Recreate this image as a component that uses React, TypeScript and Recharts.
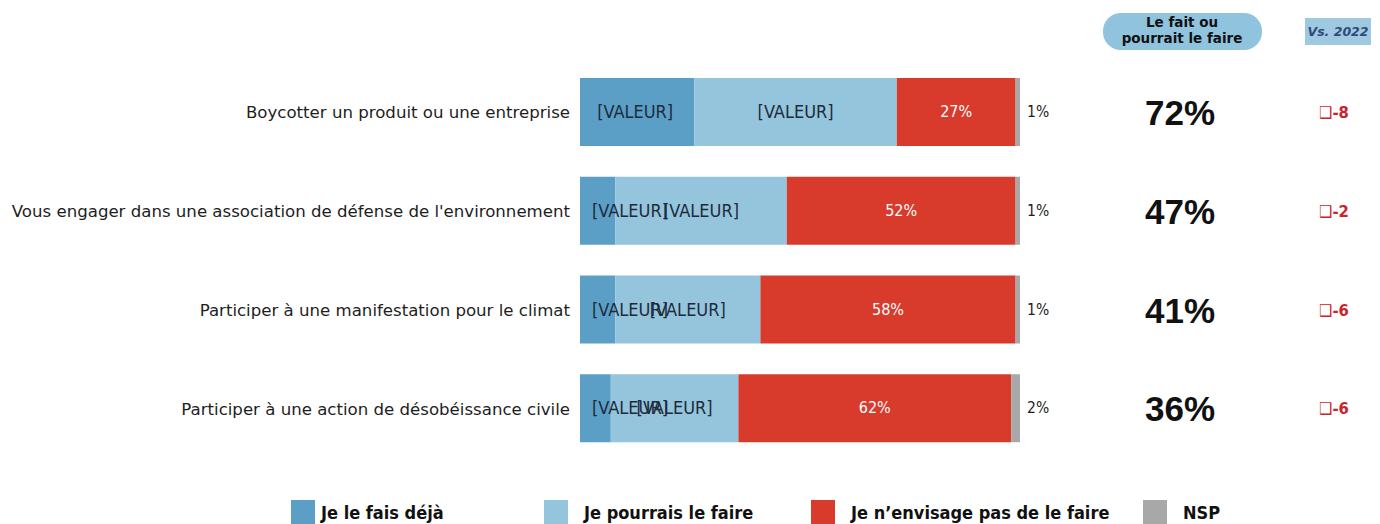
import React from 'react';
import { BarChart, Bar, XAxis, YAxis, LabelList } from 'recharts';

// Données
const categories = [
    'Boycotter un produit ou une entreprise',
    "Vous engager dans une association de défense de l'environnement",
    'Participer à une manifestation pour le climat',
    'Participer à une action de désobéissance civile',
];
const dejaFait = [26, 8, 8, 7];
const pourrait = [46, 39, 33, 29];
const envisagePas = [27, 52, 58, 62];
const nsp = [1, 1, 1, 2];
const totalFait = [72, 47, 41, 36];
const vs2022 = [-8, -2, -6, -6];
const seriesNames = ['Je le fais déjà', 'Je pourrais le faire', "Je n\u2019envisage pas de le faire", 'NSP'];

const COLORS = ['#5b9fc7', '#95c4dd', '#d83a2b', '#a8a8a8'];
const FONT = '"DejaVu Sans", Verdana, sans-serif';
const FONT_COND = '"DejaVu Sans Condensed", "DejaVu Sans", sans-serif';

const data = categories.map((name, i) => ({
    name,
    deja: dejaFait[i],
    pourrait: pourrait[i],
    pas: envisagePas[i],
    nsp: nsp[i],
    total: totalFait[i],
    delta: vs2022[i],
}));

const CategoryTick = ({ x, y, payload }: any) => (
    <text x={x - 2} y={y} dy={6} textAnchor="end" fontFamily={FONT} fontSize={16.6} fill="#1e1e1e">
        {payload.value}
    </text>
);

// placeholder labels as in the source deck
const DejaLabel = ({ x, y, width, height }: any) => {
    const tx = Math.max(x + width / 2 - 40, x + 12);
    return (
        <text x={tx} y={y + height / 2} dy={6} fontFamily={FONT_COND} fontSize={18} fill="#1d2b3a">
            [VALEUR]
        </text>
    );
};

const PourraitLabel = ({ x, y, width, height }: any) => (
    <text x={x + width / 2} y={y + height / 2} dy={6} textAnchor="middle" fontFamily={FONT_COND} fontSize={18} fill="#1d2b3a">
        [VALEUR]
    </text>
);

const PasLabel = ({ x, y, width, height, value }: any) => (
    <text x={x + width / 2} y={y + height / 2} dy={5} textAnchor="middle" fontFamily={FONT_COND} fontSize={16} fill="#fff">
        {value}%
    </text>
);

const NspLabel = ({ x, y, width, height, value, index }: any) => {
    const cy = y + height / 2;
    const row = data[index];
    return (
        <g>
            <text x={x + width + 7} y={cy} dy={5} fontFamily={FONT_COND} fontSize={15.5} fill="#1e1e1e">
                {value}%
            </text>
            <text x={1180} y={cy} dy={13} textAnchor="middle" fontFamily='"Liberation Sans", Arial, sans-serif' fontSize={35} fontWeight="bold" fill="#111">
                {row.total}%
            </text>
            <text x={1334} y={cy} dy={6} textAnchor="middle" fontFamily={FONT_COND} fontSize={16.5} fontWeight="bold" fill="#c8242a">
                {'\u2751'}{row.delta}
            </text>
        </g>
    );
};

const Header = () => (
    <svg width={1380} height={60} style={{ position: 'absolute', left: 0, top: 0 }}>
        <rect x={1103} y={13} width={159} height={37} rx={18} fill="#8fc3de" />
        <text x={1182} y={27} textAnchor="middle" fontFamily={FONT} fontSize={13.5} fontWeight="bold" fill="#111">Le fait ou</text>
        <text x={1182} y={43} textAnchor="middle" fontFamily={FONT} fontSize={13.5} fontWeight="bold" fill="#111">pourrait le faire</text>
        <rect x={1305} y={18} width={66} height={27} fill="#9fc9e1" />
        <text x={1338} y={36} textAnchor="middle" fontFamily={FONT} fontSize={12.5} fontWeight="bold" fontStyle="italic" fill="#2f4a78">Vs. 2022</text>
    </svg>
);

const legendSquareX = [291, 544, 811, 1143];

const BottomLegend = () => (
    <svg width={1380} height={30} style={{ position: 'absolute', left: 0, top: 494 }}>
        {seriesNames.map((s, i) => (
            <g key={s}>
                <rect x={legendSquareX[i]} y={6} width={24} height={30} fill={COLORS[i]} />
                <text x={legendSquareX[i] + 30 + (i > 0 ? 10 : 0)} y={25} fontFamily={FONT_COND} fontSize={18} fontWeight="bold" fill="#111">
                    {s}
                </text>
            </g>
        ))}
    </svg>
);

export default function App() {
    return (
        <div style={{ position: 'absolute', left: 0, top: 0, width: 1380, height: 524, background: '#fff', overflow: 'hidden' }}>
            <Header />
            <BarChart
                width={1380}
                height={524}
                data={data}
                layout="vertical"
                barSize={68}
                margin={{ top: 63, right: 360, bottom: 66, left: 0 }}
            >
                <XAxis type="number" domain={[0, 100]} hide />
                <YAxis type="category" dataKey="name" width={580} axisLine={false} tickLine={false} tick={<CategoryTick />} interval={0} />
                <Bar dataKey="deja" stackId="a" fill={COLORS[0]} isAnimationActive={false}>
                    <LabelList dataKey="deja" content={<DejaLabel />} />
                </Bar>
                <Bar dataKey="pourrait" stackId="a" fill={COLORS[1]} isAnimationActive={false}>
                    <LabelList dataKey="pourrait" content={<PourraitLabel />} />
                </Bar>
                <Bar dataKey="pas" stackId="a" fill={COLORS[2]} isAnimationActive={false}>
                    <LabelList dataKey="pas" content={<PasLabel />} />
                </Bar>
                <Bar dataKey="nsp" stackId="a" fill={COLORS[3]} isAnimationActive={false}>
                    <LabelList dataKey="nsp" content={<NspLabel />} />
                </Bar>
            </BarChart>
            <BottomLegend />
        </div>
    );
}
